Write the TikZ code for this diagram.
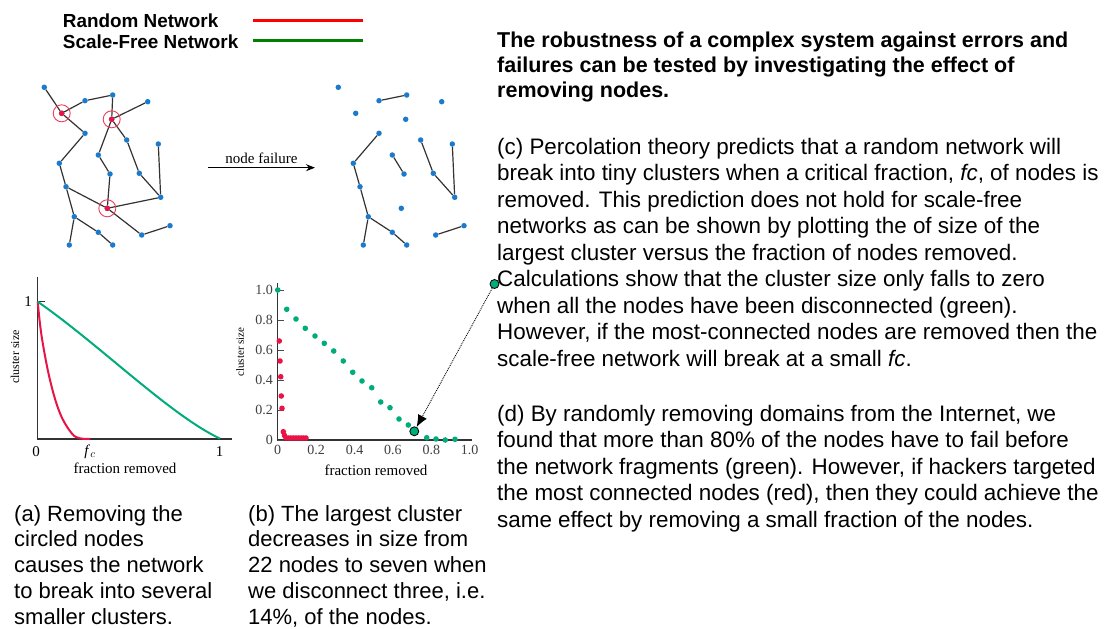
\documentclass[tikz,border=0pt]{standalone}
\usepackage{fontspec}
\setmainfont{Liberation Sans}
\newfontfamily\plotfont{Liberation Serif}
\usetikzlibrary{arrows.meta}

\definecolor{netBlue}{RGB}{28,122,204}
\definecolor{ringRed}{RGB}{238,60,90}
\definecolor{rndRed}{RGB}{232,20,70}
\definecolor{sfGreen}{RGB}{0,172,122}
\definecolor{lgRed}{RGB}{255,0,0}
\definecolor{lgGreen}{RGB}{0,128,0}

% node positions of the small network (pixels)
\def\netNodes{1/44.3/87.3, 2/61.7/113.3, 3/85/100.7, 4/112.7/95, 5/147.7/101.7,
  6/111.7/119.3, 7/85/133.3, 8/126.7/140, 9/158.3/144, 10/98.3/155, 11/59.3/163.3,
  12/110/174, 13/139.3/173.3, 14/66/186.7, 15/160.7/197.3, 16/107.3/208.3,
  17/74.3/216.7, 18/98.3/232.3, 19/170/225.7, 20/141.7/235, 21/69.3/245, 22/112.7/245}
\def\keptEdges{3/4, 7/11, 11/14, 10/12, 8/13, 13/15, 9/15, 20/19, 14/17, 17/21, 17/18, 18/22}
\def\lostEdges{1/2, 2/3, 4/6, 6/5, 2/7, 14/16, 16/12, 10/6, 6/8, 15/16, 16/20}

\tikzset{
  netnode/.style={circle, fill=netBlue, inner sep=0pt, minimum size=5.5pt},
  netedge/.style={black!80, line width=1.2pt},
  failring/.style={circle, draw=ringRed, line width=0.9pt, inner sep=0pt, minimum size=17pt},
  bodytext/.style={anchor=north west, inner sep=0pt, align=left,
    font=\fontsize{22.4}{26.5}\selectfont},
  plotlabel/.style={inner sep=1pt, font=\plotfont\fontsize{15}{17}\selectfont},
  ticklabel/.style={inner sep=1pt, font=\plotfont\fontsize{14}{16}\selectfont, black!75},
  axisline/.style={black!80, line width=1.3pt},
  gdot/.style={circle, fill=sfGreen, inner sep=0pt, minimum size=5.6pt},
  rdot/.style={circle, fill=rndRed, inner sep=0pt, minimum size=5.6pt},
  bigdot/.style={circle, fill=sfGreen, draw=black, line width=0.8pt, inner sep=0pt, minimum size=9pt},
  legendtext/.style={anchor=west, inner sep=0pt, font=\bfseries\fontsize{18.9}{22}\selectfont}
}

\begin{document}
\begin{tikzpicture}[x=1pt, y=-1pt]
  \useasboundingbox[fill=white] (0,0) rectangle (1104,629);

  % legend
  \node[legendtext] (lgRand) at (62.7,20.7) {Random Network};
  \node[legendtext] (lgScale) at (62.7,42.2) {Scale-Free Network};
  \coordinate (lgRandA) at (253,20.7);
  \coordinate (lgRandB) at (363,20.7);
  \coordinate (lgScaleA) at (253,40);
  \coordinate (lgScaleB) at (363,40);
  \draw[lgRed, line width=3pt] (lgRandA) -- (lgRandB);
  \draw[lgGreen, line width=3pt] (lgScaleA) -- (lgScaleB);

  % network before and after
  \foreach \i/\x/\y in \netNodes {
    \node[netnode] (a\i) at (\x,\y) {};
    \node[netnode] (b\i) at (\x+294,\y) {};
  }
  \foreach \u/\v in \keptEdges {
    \draw[netedge] (a\u) -- (a\v);
    \draw[netedge] (b\u) -- (b\v);
  }
  \foreach \u/\v in \lostEdges
    \draw[netedge] (a\u) -- (a\v);
  \foreach \i in {2,6,16} {
    \node[failring] (ring\i) at (a\i) {};
    \fill[rndRed] (a\i) circle (2.8);
  }

  \coordinate (failA) at (208,167.7);
  \coordinate (failB) at (315,167.7);
  \draw[black, line width=1.2pt, -{Stealth[length=9pt, width=7pt]}] (failA) -- (failB)
    node[midway, above=2pt, plotlabel] (failText) {node failure};

  % plot (a)
  \coordinate (aTop) at (37.7,276.7);
  \coordinate (aOrig) at (37.7,439);
  \coordinate (aEnd) at (231.7,439);
  \draw[axisline] (aTop) -- (aOrig) -- (aEnd);
  \draw[axisline] (37.7,301.7) -- (45,301.7);
  \draw[rndRed, line width=2pt] plot[smooth, tension=0.6] coordinates
    {(37.7,301.7) (41.7,336.7) (50,380) (60,413.3) (71.7,433.3) (80,438.3) (90,438.8)};
  \draw[sfGreen, line width=2pt] (37.7,301.7) .. controls (100,345) and (170,415) .. (220,438.6);
  \node[plotlabel] (aOne) at (28,301.7) {1};
  \node[plotlabel] (aZero) at (36,452) {0};
  \node[plotlabel] (aFc) at (90,452) {\textit{f}$_c$};
  \node[plotlabel] (aXOne) at (219.5,452) {1};
  \node[plotlabel] (aXLab) at (125,468) {fraction removed};
  \node[plotlabel, rotate=90, font=\plotfont\fontsize{12}{14}\selectfont] (aYLab) at (15,357) {cluster size};

  % plot (b)
  \coordinate (bTop) at (277.7,283);
  \coordinate (bOrig) at (277.7,440);
  \coordinate (bEnd) at (472,440);
  \draw[axisline] (bTop) -- (bOrig) -- (bEnd);
  \foreach \v [count=\k] in {0,0.2,0.4,0.6,0.8,1.0} {
    \draw[black!70, line width=0.6pt] (277.7,{440-150*\v}) -- (283.5,{440-150*\v});
    \node[ticklabel, anchor=east] (bYt\k) at (274,{440-150*\v}) {\v};
    \node[ticklabel, anchor=north] (bXt\k) at ({277.7+192*\v},444) {\v};
  }
  \node[plotlabel] (bXLab) at (376,470) {fraction removed};
  \node[plotlabel, rotate=90, font=\plotfont\fontsize{11}{13}\selectfont] (bYLab) at (240,352) {cluster size};

  \foreach \x/\y [count=\k] in {277.7/290, 286.7/309.3, 296/319, 305.3/328.3, 315/336,
      324.3/343.3, 333.7/351, 343.3/361, 352.7/372.3, 362/381, 371.7/387.7, 380.7/402,
      390/407.7, 399/419, 408.3/425, 426.7/437.7, 436/439, 445.3/440, 455/439.3}
    \node[gdot] (g\k) at (\x,\y) {};
  \foreach \x/\y [count=\k] in {279.3/341, 280/361, 280.7/376.7, 281.3/396, 282/408.3,
      283.3/431.7, 284.5/435.5}
    \node[rdot] (r\k) at (\x,\y) {};
  \foreach \x [count=\k] in {286,288.5,...,306}
    \node[rdot] (rr\k) at (\x,438) {};

  \node[bigdot] (hit) at (414.3,431.3) {};
  \node[bigdot] (src) at (494.5,284) {};
  \draw[black, line width=0.9pt, densely dotted, -{Latex[length=12pt, width=10pt]}] (src) -- (hit);

  % captions
  \node[bodytext, font=\fontsize{22}{25.8}\selectfont] (capA) at (14,505) {(a) Removing the\\circled nodes\\causes the network\\to break into several\\smaller clusters.};
  \node[bodytext, font=\fontsize{22}{25.8}\selectfont] (capB) at (248,505) {(b) The largest cluster\\decreases in size from\\22 nodes to seven when\\we disconnect three, i.e.\\14\%, of the nodes.};

  % text on the right
  \node[bodytext, font=\bfseries\fontsize{21.5}{25}\selectfont] (title) at (497,32)
    {The robustness of a complex system against errors and\\failures can be tested by investigating the effect of\\removing nodes.};
  \node[bodytext] (textC) at (497,137.6)
    {(c) Percolation theory predicts that a random network will\\
     break into tiny clusters when a critical fraction, \textit{fc}, of nodes is\\
     removed. This prediction does not hold for scale-free\\
     networks as can be shown by plotting the of size of the\\
     largest cluster versus the fraction of nodes removed.\\
     Calculations show that the cluster size only falls to zero\\
     when all the nodes have been disconnected (green).\\
     However, if the most-connected nodes are removed then the\\
     scale-free network will break at a small \textit{fc}.};
  \node[bodytext] (textD) at (497,404.6)
    {(d) By randomly removing domains from the Internet, we\\
     found that more than 80\% of the nodes have to fail before\\
     the network fragments (green). However, if hackers targeted\\
     the most connected nodes (red), then they could achieve the\\
     same effect by removing a small fraction of the nodes.};
\end{tikzpicture}
\end{document}
